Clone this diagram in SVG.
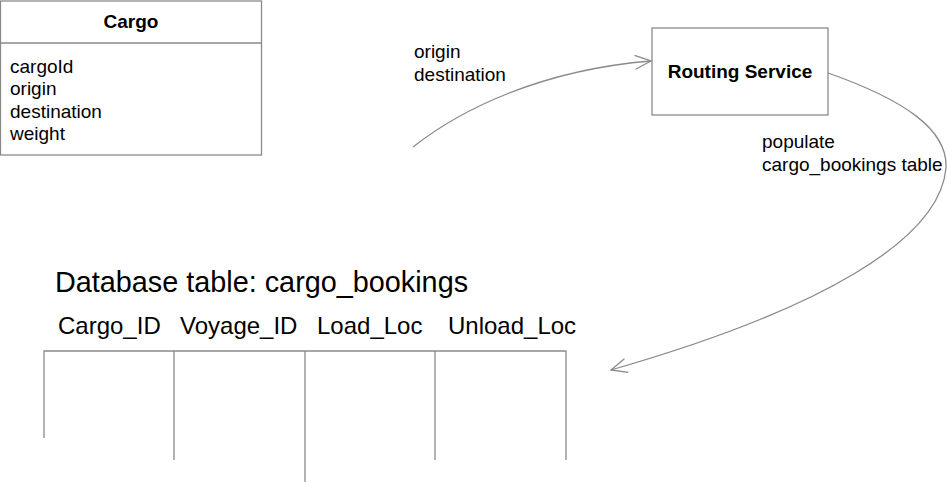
<svg xmlns="http://www.w3.org/2000/svg" width="950" height="482" viewBox="0 0 950 482">
<style>
text{font-family:"Liberation Sans",Arial,sans-serif;fill:#000}
.b{font-weight:bold;font-size:19px}
.t{font-size:19px}
.h{font-size:24px}
.box{fill:#fff;stroke:#8a8a8a;stroke-width:1.3}
.ln{fill:none;stroke:#8a8a8a;stroke-width:1.3}
</style>
<defs>
<marker id="open" viewBox="0 0 20 20" refX="18" refY="10" markerWidth="20" markerHeight="20" markerUnits="userSpaceOnUse" orient="auto">
<path d="M2,3 L18,10 L2,17" fill="none" stroke="#8a8a8a" stroke-width="1.3"/>
</marker>
</defs>
<rect width="950" height="482" fill="#fff"/>
<g id="cargo">
<rect class="box" x="0.5" y="1" width="261" height="154"/>
<line class="ln" x1="0.5" y1="43" x2="261.5" y2="43"/>
<text class="b" x="131" y="28" text-anchor="middle">Cargo</text>
<text class="t" x="10" y="73">cargoId</text>
<text class="t" x="10" y="95">origin</text>
<text class="t" x="10" y="118">destination</text>
<text class="t" x="10" y="140">weight</text>
</g>
<g id="routing-service">
<rect class="box" x="652" y="28" width="176" height="87"/>
<text class="b" x="740" y="78" text-anchor="middle">Routing Service</text>
</g>
<g id="cargo-bookings">
<text x="55" y="292" style="font-size:28.8px">Database table: cargo_bookings</text>
<text class="h" x="58" y="334">Cargo_ID</text>
<text class="h" x="180" y="334">Voyage_ID</text>
<text class="h" x="317" y="334">Load_Loc</text>
<text class="h" x="448" y="334">Unload_Loc</text>
<path class="ln" d="M44,438 V351 H566 V460 M174,351 V460 M305,351 V482 M435,351 V460"/>
</g>
<g id="connectors">
<path class="ln" d="M413,147 C460,110 540,70 651,61" marker-end="url(#open)"/>
<text class="t" x="414" y="58">origin</text>
<text class="t" x="414" y="81">destination</text>
<path class="ln" d="M828,73 C905,100 948,130 946,168 C940,240 820,310 611,370" marker-end="url(#open)"/>
<text class="t" x="762" y="148">populate</text>
<text class="t" x="762" y="171">cargo_bookings table</text>
</g>
</svg>
